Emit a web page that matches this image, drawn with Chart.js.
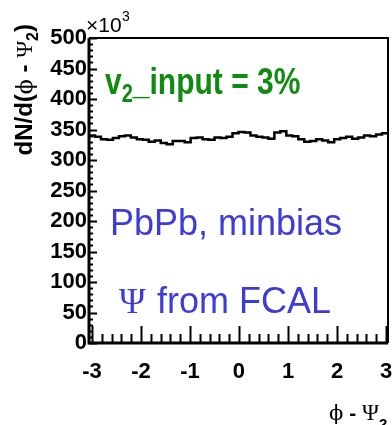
<!DOCTYPE html>
<html>
<head>
<meta charset="utf-8">
<script src="https://cdn.jsdelivr.net/npm/chart.js@4/dist/chart.umd.min.js"></script>
<style>
  html, body { margin: 0; padding: 0; background: #fff; }
  #wrap { width: 392px; height: 425px; position: relative; }
</style>
</head>
<body>
<div id="wrap"><canvas id="c" width="392" height="425"></canvas></div>
<script>
// dN/d(phi - Psi2), in units of 10^3, one value per bin
var binCounts = [340,338,334,333,336,339,340,337,334,333,
                 330,332,328,326,331,331,329,336,337,334,
                 333,337,336,338,344,346,345,340,338,337,
                 335,345,347,340,339,334,330,331,334,332,
                 329,334,336,338,335,337,340,339,342,344];
var xRange = [-3.06, 3.04];
var xTickLabels = [-3, -2, -1, 0, 1, 2, 3];
var yTickLabels = [0, 50, 100, 150, 200, 250, 300, 350, 400, 450, 500];

// build bin edges for the stepped histogram
var nBins = binCounts.length;
var binW = (xRange[1] - xRange[0]) / nBins;
var histPoints = [];
for (var i = 0; i < nBins; i++) {
  histPoints.push({ x: xRange[0] + i * binW, y: binCounts[i] });
}
histPoints.push({ x: xRange[1], y: binCounts[nBins - 1] });

var SANS = '"Liberation Sans", Arial, sans-serif';
var SERIF = '"DejaVu Serif", "Liberation Serif", serif';
var PSI_FONT = '"Liberation Serif", "DejaVu Serif", serif';

// frame, inside ticks and the text labels
var decor = {
  id: 'decor',
  afterDraw: function(chart) {
    var ctx = chart.ctx;
    var a = chart.chartArea;
    var xs = chart.scales.x, ys = chart.scales.y;
    ctx.save();
    ctx.strokeStyle = '#000';

    // y ticks pointing in
    ctx.lineWidth = 2;
    for (var v = 0; v <= 500; v += 10) {
      var py = Math.round(ys.getPixelForValue(v)) + 0.5;
      var len = (v % 50 === 0) ? 8 : 4;
      ctx.beginPath();
      ctx.moveTo(a.left, py);
      ctx.lineTo(a.left + len, py);
      ctx.stroke();
    }
    // x ticks pointing in
    for (var t = -3; t <= 3.0001; t += 0.2) {
      var tv = Math.round(t * 10) / 10;
      var px = Math.round(xs.getPixelForValue(tv)) + 0.5;
      var major = Math.abs(tv - Math.round(tv)) < 1e-6;
      ctx.beginPath();
      ctx.moveTo(px, a.bottom);
      ctx.lineTo(px, a.bottom - (major ? 17 : 9));
      ctx.stroke();
    }

    // frame
    ctx.lineWidth = 3;
    ctx.beginPath();
    ctx.moveTo(a.left, a.top);
    ctx.lineTo(a.left, a.bottom);
    ctx.lineTo(a.right, a.bottom);
    ctx.stroke();
    ctx.lineWidth = 2;
    ctx.beginPath();
    ctx.moveTo(a.left, a.top);
    ctx.lineTo(a.right, a.top);
    ctx.lineTo(a.right, a.bottom);
    ctx.stroke();

    ctx.fillStyle = '#000';
    ctx.textBaseline = 'alphabetic';

    // x10^3
    ctx.font = '21px ' + SANS;
    ctx.textAlign = 'left';
    ctx.fillText('\u00d710', 86, 32);
    ctx.font = '14px ' + SANS;
    ctx.fillText('3', 122, 21);

    // y title, rotated, top aligned
    ctx.save();
    ctx.translate(32, 24);
    ctx.rotate(-Math.PI / 2);
    var parts = [
      ['dN/d(', 'bold 24px ' + SANS, 0],
      ['\u03d5', '22px ' + SERIF, 0],
      [' - ', 'bold 24px ' + SANS, 0],
      ['\u03a8', '23px ' + PSI_FONT, 0],
      ['2', 'bold 16px ' + SANS, 6],
      [')', 'bold 24px ' + SANS, 0]
    ];
    var total = 0;
    ctx.textAlign = 'left';
    parts.forEach(function(p) { ctx.font = p[1]; total += ctx.measureText(p[0]).width; });
    var cx = -total;
    parts.forEach(function(p) {
      ctx.font = p[1];
      ctx.fillText(p[0], cx, p[2]);
      cx += ctx.measureText(p[0]).width;
    });
    ctx.restore();

    // x title at the bottom right
    var xparts = [
      ['\u03d5', '21px ' + SERIF, 0],
      [' - ', 'bold 21px ' + SANS, 0],
      ['\u03a8', '23px ' + PSI_FONT, 0],
      ['2', 'bold 15px ' + SANS, 9]
    ];
    var xx = 329;
    xparts.forEach(function(p) {
      ctx.font = p[1];
      ctx.fillText(p[0], xx, 420 + p[2]);
      xx += ctx.measureText(p[0]).width;
    });

    // v2_input = 3%
    ctx.fillStyle = '#118a11';
    ctx.save();
    ctx.translate(105, 94);
    ctx.scale(1, 1.25);
    ctx.font = 'bold 30px ' + SANS;
    ctx.fillText('v', 0, 0);
    var w = ctx.measureText('v').width;
    ctx.font = 'bold 20px ' + SANS;
    ctx.fillText('2', w, 6);
    w += ctx.measureText('2').width;
    ctx.font = 'bold 30px ' + SANS;
    ctx.fillText('_input = 3%', w, 0);
    ctx.restore();

    // PbPb, minbias
    ctx.fillStyle = '#3d3dd6';
    ctx.font = '36px ' + SANS;
    ctx.fillText('PbPb, minbias', 110, 235);

    // Psi from FCAL
    ctx.font = '36px ' + PSI_FONT;
    ctx.fillText('\u03a8', 119, 313);
    ctx.font = '36px ' + SANS;
    ctx.fillText('from FCAL', 157, 313);

    ctx.restore();
  }
};

var ctx = document.getElementById('c').getContext('2d');
var chart = new Chart(ctx, {
  type: 'line',
  data: {
    datasets: [{
      data: histPoints,
      stepped: 'before',
      borderColor: '#000',
      borderWidth: 2.5,
      pointRadius: 0,
      fill: false,
      tension: 0
    }]
  },
  options: {
    responsive: false,
    animation: false,
    events: [],
    layout: { padding: { top: 38, right: 4, left: 0, bottom: 0 } },
    plugins: { legend: { display: false }, tooltip: { enabled: false } },
    scales: {
      x: {
        type: 'linear',
        min: xRange[0],
        max: xRange[1],
        afterBuildTicks: function(s) { s.ticks = xTickLabels.map(function(v) { return { value: v }; }); },
        afterFit: function(s) { s.height = 82; s.paddingLeft = 0; s.paddingRight = 0; },
        grid: { display: false, drawTicks: false },
        border: { display: false },
        ticks: {
          padding: 16,
          color: '#000',
          maxRotation: 0,
          autoSkip: false,
          font: { family: SANS, size: 22, weight: 'bold' }
        }
      },
      y: {
        type: 'linear',
        min: 0,
        max: 500,
        afterBuildTicks: function(s) { s.ticks = yTickLabels.map(function(v) { return { value: v }; }); },
        afterFit: function(s) { s.width = 89; s.paddingTop = 0; s.paddingBottom = 0; },
        grid: { display: false, drawTicks: false },
        border: { display: false },
        ticks: {
          padding: 2,
          color: '#000',
          autoSkip: false,
          font: { family: SANS, size: 22, weight: 'bold' }
        }
      }
    }
  },
  plugins: [decor]
});
</script>
</body>
</html>
